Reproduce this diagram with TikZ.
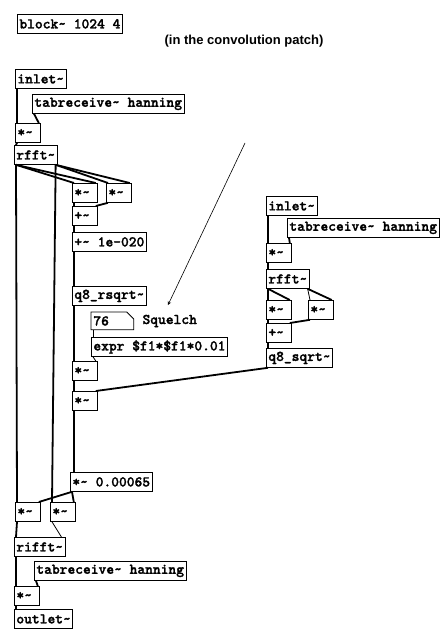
\documentclass[tikz,border=0pt]{standalone}
\usepackage{fontspec}
\newfontfamily\notefont{Liberation Sans}
\newfontfamily\pdfont{lmmonolt10-bold.otf}[AutoFakeBold=1.6]
\newcommand{\tld}{\textasciitilde}

\begin{document}
\begin{tikzpicture}[x=1pt, y=-1pt,
  pdbox/.style={draw, line width=0.8pt, anchor=north west, inner xsep=2pt, inner ysep=0pt,
    minimum height=19pt, font=\pdfont\bfseries\fontsize{14.8}{14.8}\selectfont},
  mulbox/.style={pdbox, text width=21pt, align=left},
  sig/.style={line width=1.8pt},
  ctl/.style={line width=0.8pt}]

\useasboundingbox (0,0) rectangle (446,634);

\node[pdbox] (block) at (17,14) {block\tld{} 1024 4};
\node[font=\notefont\bfseries\fontsize{13}{13}\selectfont] (note) at (244,41) {(in the convolution patch)};

% analysis chain (left)
\node[pdbox] (inL) at (15,69) {inlet\tld};
\node[pdbox] (tabL) at (32,94) {tabreceive\tld{} hanning};
\node[mulbox] (mulL) at (15,123) {*\tld};
\node[pdbox] (rfftL) at (14,145) {rfft\tld};
\node[mulbox] (sqA) at (72,183) {*\tld};
\node[mulbox] (sqB) at (106,183) {*\tld};
\node[mulbox] (addA) at (72,206) {+\tld};
\node[pdbox] (addEps) at (72,232) {+\tld{} 1e-020};
\node[pdbox] (rsqrt) at (72,286) {q8\_rsqrt\tld};
\node[pdbox, draw=none, minimum height=17pt, text width=38pt, align=left] (num) at (91,312) {76};
\draw[line width=0.8pt] (num.north west) -- ([xshift=-7pt]num.north east) -- ([yshift=-7pt]num.north east)
  -- (num.south east) -- (num.south west) -- cycle;
\node[anchor=west, font=\pdfont\bfseries\fontsize{14.8}{14.8}\selectfont] (squelch) at (139,321) {Squelch};
\node[pdbox] (expr) at (91,337) {expr \$f1*\$f1*0.01};
\node[mulbox] (mulC) at (72,361) {*\tld};
\node[mulbox] (mulD) at (72,391) {*\tld};
\node[pdbox] (gain) at (70,472) {*\tld{} 0.00065};
\node[mulbox] (mulG) at (15,502) {*\tld};
\node[mulbox] (mulH) at (50,502) {*\tld};
\node[pdbox] (rifft) at (14,537) {rifft\tld};
\node[pdbox] (tabOut) at (34,561) {tabreceive\tld{} hanning};
\node[mulbox] (mulOut) at (14,586) {*\tld};
\node[pdbox] (outlet) at (14,609) {outlet\tld};

% second input (right)
\node[pdbox] (inR) at (266,196) {inlet\tld};
\node[pdbox] (tabR) at (287,218) {tabreceive\tld{} hanning};
\node[mulbox] (mulR) at (266,243) {*\tld};
\node[pdbox] (rfftR) at (266,269) {rfft\tld};
\node[mulbox] (sqE) at (266,300) {*\tld};
\node[mulbox] (sqF) at (308,300) {*\tld};
\node[mulbox] (addR) at (266,323) {+\tld};
\node[pdbox] (sqrtR) at (266,348) {q8\_sqrt\tld};

% arrow
\coordinate (arrS) at (245,143);
\coordinate (arrE) at (168,305);
\draw[-stealth, line width=0.6pt] (arrS) -- (arrE);

% left connections
\draw[sig] ([xshift=2pt]inL.south west) -- ([xshift=2pt]mulL.north west);
\draw[sig] ([xshift=2pt]tabL.south west) -- ([xshift=-2pt]mulL.north east);
\draw[sig] ([xshift=2pt]mulL.south west) -- ([xshift=2pt]rfftL.north west);
\draw[sig] ([xshift=2pt]rfftL.south west) -- ([xshift=2pt]sqA.north west);
\draw[sig] ([xshift=2pt]rfftL.south west) -- ([xshift=-2pt]sqA.north east);
\draw[sig] ([xshift=-2pt]rfftL.south east) -- ([xshift=2pt]sqB.north west);
\draw[sig] ([xshift=-2pt]rfftL.south east) -- ([xshift=-2pt]sqB.north east);
\draw[sig] ([xshift=2pt]rfftL.south west) -- ([xshift=2pt]mulG.north west);
\draw[sig] ([xshift=-2pt]rfftL.south east) -- ([xshift=2pt]mulH.north west);
\draw[sig] ([xshift=2pt]sqA.south west) -- ([xshift=2pt]addA.north west);
\draw[sig] ([xshift=2pt]sqB.south west) -- ([xshift=-2pt]addA.north east);
\draw[sig] ([xshift=2pt]addA.south west) -- ([xshift=2pt]addEps.north west);
\draw[sig] ([xshift=2pt]addEps.south west) -- ([xshift=2pt]rsqrt.north west);
\draw[sig] ([xshift=2pt]rsqrt.south west) -- ([xshift=2pt]mulC.north west);
\draw[ctl] ([xshift=2pt]num.south west) -- ([xshift=2pt]expr.north west);
\draw[ctl] ([xshift=2pt]expr.south west) -- ([xshift=-2pt]mulC.north east);
\draw[sig] ([xshift=2pt]mulC.south west) -- ([xshift=2pt]mulD.north west);
\draw[sig] ([xshift=2pt]sqrtR.south west) -- ([xshift=-2pt]mulD.north east);
\draw[sig] ([xshift=2pt]mulD.south west) -- ([xshift=4pt]gain.north west);
\draw[sig] ([xshift=2pt]gain.south west) -- ([xshift=-2pt]mulG.north east);
\draw[sig] ([xshift=2pt]gain.south west) -- ([xshift=-2pt]mulH.north east);
\draw[sig] ([xshift=2pt]mulG.south west) -- ([xshift=2pt]rifft.north west);
\draw[ctl] ([xshift=2pt]mulH.south west) -- ([xshift=-4pt]rifft.north east);
\draw[sig] ([xshift=2pt]rifft.south west) -- ([xshift=2pt]mulOut.north west);
\draw[sig] ([xshift=2pt]tabOut.south west) -- ([xshift=-2pt]mulOut.north east);
\draw[sig] ([xshift=2pt]mulOut.south west) -- ([xshift=2pt]outlet.north west);

% right connections
\draw[sig] ([xshift=2pt]inR.south west) -- ([xshift=2pt]mulR.north west);
\draw[sig] ([xshift=2pt]tabR.south west) -- ([xshift=-2pt]mulR.north east);
\draw[sig] ([xshift=2pt]mulR.south west) -- ([xshift=2pt]rfftR.north west);
\draw[sig] ([xshift=2pt]rfftR.south west) -- ([xshift=2pt]sqE.north west);
\draw[sig] ([xshift=2pt]rfftR.south west) -- ([xshift=-2pt]sqE.north east);
\draw[ctl] ([xshift=-2pt]rfftR.south east) -- ([xshift=2pt]sqF.north west);
\draw[sig] ([xshift=-2pt]rfftR.south east) -- ([xshift=-2pt]sqF.north east);
\draw[sig] ([xshift=2pt]sqE.south west) -- ([xshift=2pt]addR.north west);
\draw[sig] ([xshift=2pt]sqF.south west) -- ([xshift=-2pt]addR.north east);
\draw[sig] ([xshift=2pt]addR.south west) -- ([xshift=2pt]sqrtR.north west);
\end{tikzpicture}
\end{document}
